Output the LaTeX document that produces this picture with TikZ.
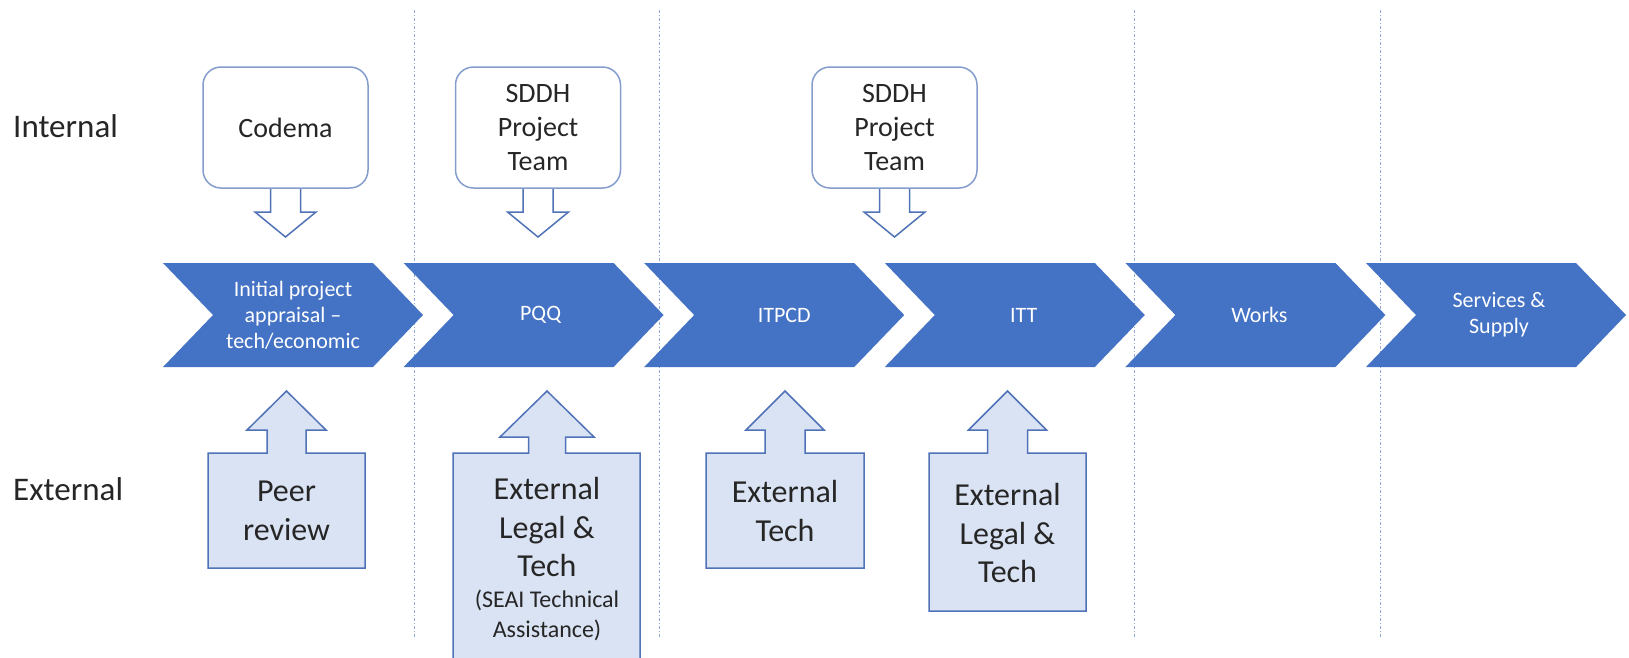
\documentclass[tikz,border=0pt]{standalone}
\usepackage{fontspec}
\setmainfont{Carlito}
\definecolor{chev}{HTML}{4472C4}
\definecolor{topborder}{RGB}{132,157,205}
\definecolor{arrborder}{RGB}{80,114,182}
\definecolor{extfill}{HTML}{DAE3F3}
\definecolor{extborder}{RGB}{79,114,184}
\definecolor{sepline}{HTML}{8FAADC}
\definecolor{txt}{HTML}{262626}
\begin{document}
\begin{tikzpicture}[x=1pt,y=-1pt,
  sepstyle/.style={sepline, line width=1pt, dash pattern=on 3pt off 2pt on 1pt off 2pt},
  chevtext/.style={text=white, align=center, font=\fontsize{22}{26}\selectfont, inner sep=0pt},
  topbox/.style={draw=topborder, line width=1.5pt, fill=white, rounded corners=18pt,
    minimum width=165pt, minimum height=121pt, align=center, text=txt,
    font=\fontsize{28}{34}\selectfont},
  downarr/.style={draw=arrborder, line width=1.5pt, fill=white, line join=miter},
  extshape/.style={draw=extborder, line width=1.5pt, fill=extfill, line join=miter},
  exttext/.style={text=txt, align=center, inner sep=0pt, font=\fontsize{32}{38.5}\selectfont},
  smalltext/.style={text=txt, align=center, inner sep=0pt, font=\fontsize{24}{30}\selectfont},
  sidetext/.style={text=txt, anchor=base west, inner sep=0pt, font=\fontsize{33}{38}\selectfont}
]
\clip (0,0) rectangle (1629,657);
\fill[white] (0,0) rectangle (1629,657);

% separators
\foreach \i/\x in {1/414,2/659,3/1134,4/1380}{
  \coordinate (vt\i) at (\x,10);
  \coordinate (vb\i) at (\x,637);
  \draw[sepstyle] (vt\i) -- (vb\i);
}

% side labels
\node[sidetext] (internal) at (13,137) {Internal};
\node[sidetext] (external) at (13,500) {External};

% chevrons
\foreach \i/\lab/\dx in {1/{Initial project\\appraisal --\\tech/economic}/130,2/{PQQ}/137,3/{ITPCD}/140,4/{ITT}/139,5/{Works}/134,6/{Services \&\\Supply}/133}{
  \pgfmathsetmacro{\L}{163+(\i-1)*240.6}
  \fill[chev] (\L,263) -- ++(210,0) -- ++(50,52) -- ++(-50,52) -- ++(-210,0) -- ++(50,-52) -- cycle;
  \node[chevtext] (c\i) at (\L+\dx,315) {\lab};
}

% top down arrows (drawn under the boxes)
\foreach \i/\cx in {1/285.5,2/538,3/894.5}{
  \coordinate (da\i) at (\cx,186);
  \draw[downarr] (da\i) ++(-15,0) -- ++(0,26) -- ++(-15.5,0) -- ++(30.5,25) -- ++(30.5,-25) -- ++(-15.5,0) -- ++(0,-26);
}

% top boxes
\node[topbox] (b1) at (285.5,127.5) {Codema};
\node[topbox] (b2) at (538,127.5) {SDDH\\Project\\Team};
\node[topbox] (b3) at (894.5,127.5) {SDDH\\Project\\Team};

% bottom up-arrow callouts
\foreach \n/\xa/\xb/\cx/\sw/\hw/\hb/\yb in {
  1/208/365/286.5/39/79/430/568,
  2/453/640/547/37/94/437/690,
  3/706/864/785/40/78/430/568,
  4/929/1086/1007.5/40/78/430/611}{
  \draw[extshape] (\xa,453) -- (\cx-\sw/2,453) -- (\cx-\sw/2,\hb) -- (\cx-\hw/2,\hb) -- (\cx,391)
     -- (\cx+\hw/2,\hb) -- (\cx+\sw/2,\hb) -- (\cx+\sw/2,453) -- (\xb,453) -- (\xb,\yb) -- (\xa,\yb) -- cycle;
}

\node[exttext] (e1) at (286.5,511) {Peer\\review};
\node[exttext] (e2) at (547,527) {External\\Legal \&\\Tech};
\node[smalltext] (e2s) at (547,615) {(SEAI Technical\\Assistance)};
\node[exttext] (e3) at (785,511) {External\\Tech};
\node[exttext] (e4) at (1007.5,533) {External\\Legal \&\\Tech};
\end{tikzpicture}
\end{document}
